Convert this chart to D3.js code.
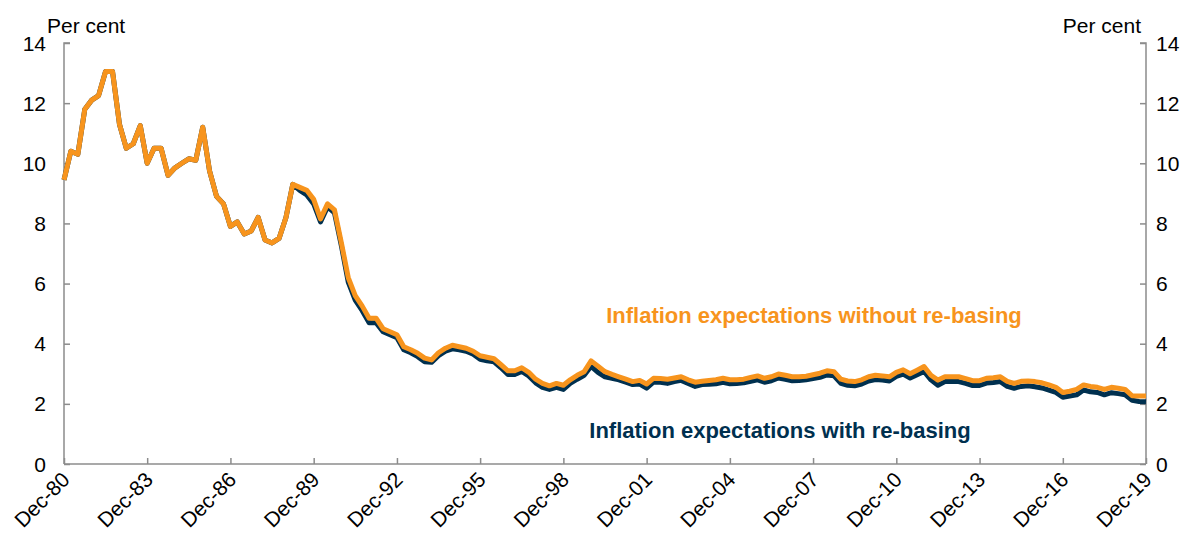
<!DOCTYPE html>
<html>
<head>
<meta charset="utf-8">
<script src="https://cdn.jsdelivr.net/npm/d3@7"></script>
<style>
  body { margin: 0; background: #fff; }
  text { font-family: "Liberation Sans", Arial, sans-serif; }
</style>
</head>
<body>
<div id="chart"></div>
<script>
// quarterly observations, Dec-80 to Dec-19
const startYear = 1980;
const withoutRebasing = [
  9.45, 10.4, 10.3, 11.8, 12.1, 12.25, 13.05, 13.05, 11.3, 10.5,
  10.65, 11.25, 10.0, 10.5, 10.5, 9.6, 9.85, 10.0, 10.15, 10.1,
  11.2, 9.75, 8.9, 8.65, 7.9, 8.05, 7.65, 7.75, 8.2, 7.45,
  7.35, 7.5, 8.2, 9.3, 9.2, 9.1, 8.8, 8.15, 8.65, 8.45,
  7.35, 6.2, 5.6, 5.25, 4.85, 4.85, 4.5, 4.4, 4.3, 3.9,
  3.8, 3.68, 3.52, 3.46, 3.7, 3.85, 3.95, 3.9, 3.85, 3.75,
  3.6, 3.55, 3.5, 3.3, 3.1, 3.1, 3.2, 3.05, 2.82, 2.68,
  2.6, 2.68, 2.62, 2.8, 2.95, 3.07, 3.43, 3.25, 3.07, 2.98,
  2.9, 2.82, 2.74, 2.78, 2.66, 2.85, 2.84, 2.82, 2.86, 2.9,
  2.8, 2.72, 2.75, 2.78, 2.8, 2.85, 2.8, 2.8, 2.82, 2.88,
  2.93, 2.85, 2.9, 2.99, 2.95, 2.9, 2.9, 2.92, 2.97, 3.02,
  3.1, 3.07, 2.82, 2.76, 2.74, 2.8, 2.9, 2.95, 2.93, 2.9,
  3.05, 3.13, 3.0, 3.12, 3.24, 2.95, 2.79, 2.9, 2.9, 2.9,
  2.84, 2.77, 2.77, 2.85, 2.87, 2.9, 2.75, 2.68, 2.75, 2.76,
  2.74, 2.7, 2.63, 2.55, 2.38, 2.42, 2.48, 2.63, 2.58, 2.55,
  2.48, 2.55, 2.52, 2.48, 2.27, 2.26, 2.26
];
const withRebasing = [
  9.45, 10.4, 10.3, 11.8, 12.1, 12.25, 13.05, 13.05, 11.3, 10.5,
  10.65, 11.25, 10.0, 10.5, 10.5, 9.6, 9.85, 10.0, 10.15, 10.1,
  11.2, 9.75, 8.9, 8.65, 7.9, 8.05, 7.65, 7.75, 8.2, 7.45,
  7.35, 7.5, 8.2, 9.3, 9.1, 8.95, 8.65, 8.05, 8.55, 8.35,
  7.25, 6.05, 5.45, 5.1, 4.7, 4.7, 4.4, 4.3, 4.2, 3.8,
  3.7, 3.57, 3.4, 3.38, 3.6, 3.75, 3.83, 3.8, 3.75, 3.65,
  3.48, 3.43, 3.4, 3.2, 2.98, 2.98, 3.08, 2.93, 2.7, 2.55,
  2.48, 2.55, 2.48, 2.68, 2.82, 2.95, 3.25, 3.05, 2.9, 2.85,
  2.8, 2.72, 2.64, 2.66, 2.52, 2.72, 2.72, 2.68, 2.74, 2.78,
  2.68, 2.58, 2.64, 2.65, 2.67, 2.72, 2.67, 2.68, 2.7, 2.75,
  2.8, 2.72, 2.77, 2.86, 2.82, 2.77, 2.78, 2.8, 2.84, 2.88,
  2.96, 2.93, 2.68, 2.62, 2.6, 2.66, 2.76, 2.81, 2.79, 2.76,
  2.91, 2.99, 2.86, 2.97, 3.08, 2.8, 2.62, 2.74, 2.74, 2.74,
  2.68, 2.61, 2.61, 2.69, 2.71, 2.74, 2.58, 2.52, 2.58, 2.6,
  2.57, 2.53, 2.46, 2.38, 2.22, 2.26, 2.3, 2.46, 2.4, 2.38,
  2.3, 2.37, 2.34, 2.3, 2.12, 2.08, 2.07
];
const tickYears = [1980, 1983, 1986, 1989, 1992, 1995, 1998, 2001, 2004, 2007, 2010, 2013, 2016, 2019];
const yTicks = [0, 2, 4, 6, 8, 10, 12, 14];

const orange = "#F7941D";
const navy = "#00304F";
const axisGrey = "#8c8c8c";
const fontSize = 21;

const W = 1192, H = 541;
const margin = {top: 43, right: 46, bottom: 77, left: 64};
const innerW = W - margin.left - margin.right;
const innerH = H - margin.top - margin.bottom;

// quarter dates
const dates = withoutRebasing.map((d, i) => new Date(startYear, 11 + 3 * i, 1));

const svg = d3.select("#chart").append("svg")
  .attr("width", W).attr("height", H);
const g = svg.append("g")
  .attr("transform", "translate(" + margin.left + "," + margin.top + ")");

const x = d3.scaleTime()
  .domain([dates[0], dates[dates.length - 1]])
  .range([0, innerW]);
const y = d3.scaleLinear().domain([0, 14]).range([innerH, 0]);

// left axis
const leftAxis = g.append("g")
  .call(d3.axisRight(y).tickValues(yTicks).tickSize(6).tickFormat(""));
leftAxis.selectAll("line, path").attr("stroke", axisGrey).attr("stroke-width", 1.5);
leftAxis.select(".domain").attr("d", "M6,0H0V" + innerH);
g.selectAll(".ylab-left").data(yTicks).enter().append("text")
  .attr("x", -18).attr("y", d => y(d)).attr("dy", "0.36em")
  .attr("text-anchor", "end").attr("font-size", fontSize).attr("fill", "#000")
  .text(d => d);

// right axis
const rightAxis = g.append("g")
  .attr("transform", "translate(" + innerW + ",0)")
  .call(d3.axisLeft(y).tickValues(yTicks).tickSize(6).tickFormat(""));
rightAxis.selectAll("line, path").attr("stroke", axisGrey).attr("stroke-width", 1.5);
rightAxis.select(".domain").attr("d", "M-6,0H0V" + innerH);
g.selectAll(".ylab-right").data(yTicks).enter().append("text")
  .attr("x", innerW + 10).attr("y", d => y(d)).attr("dy", "0.36em")
  .attr("text-anchor", "start").attr("font-size", fontSize).attr("fill", "#000")
  .text(d => d);

// bottom axis
const tickDates = tickYears.map(yr => new Date(yr, 11, 1));
const bottomAxis = g.append("g")
  .attr("transform", "translate(0," + innerH + ")")
  .call(d3.axisTop(x).tickValues(tickDates).tickSize(6).tickFormat(""));
bottomAxis.selectAll("line, path").attr("stroke", axisGrey).attr("stroke-width", 1.5);
bottomAxis.select(".domain").attr("d", "M0,0H" + innerW);
g.selectAll(".xlab").data(tickDates).enter().append("text")
  .attr("transform", d => "translate(" + (x(d) + 7) + "," + (innerH + 17) + ") rotate(-45)")
  .attr("text-anchor", "end").attr("font-size", fontSize).attr("fill", "#000")
  .text(d => "Dec-" + d3.timeFormat("%y")(d));

// unit labels
svg.append("text").attr("x", 47).attr("y", 33)
  .attr("font-size", fontSize).attr("fill", "#000").text("Per cent");
svg.append("text").attr("x", 1141).attr("y", 33).attr("text-anchor", "end")
  .attr("font-size", fontSize).attr("fill", "#000").text("Per cent");

// lines
const line = d3.line()
  .x((d, i) => x(dates[i]))
  .y(d => y(d))
  .curve(d3.curveLinear);

g.append("path").datum(withRebasing)
  .attr("fill", "none").attr("stroke", navy).attr("stroke-width", 5)
  .attr("stroke-linejoin", "round").attr("d", line);
g.append("path").datum(withoutRebasing)
  .attr("fill", "none").attr("stroke", orange).attr("stroke-width", 5)
  .attr("stroke-linejoin", "round").attr("d", line);

// series labels
svg.append("text").attr("x", 814).attr("y", 323).attr("text-anchor", "middle")
  .attr("font-size", 22).attr("font-weight", "bold").attr("fill", orange)
  .text("Inflation expectations without re-basing");
svg.append("text").attr("x", 780).attr("y", 438).attr("text-anchor", "middle")
  .attr("font-size", 22).attr("font-weight", "bold").attr("fill", navy)
  .text("Inflation expectations with re-basing");
</script>
</body>
</html>
